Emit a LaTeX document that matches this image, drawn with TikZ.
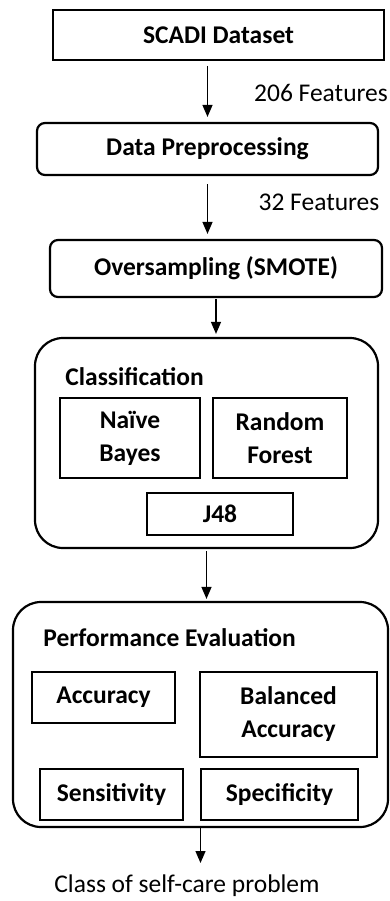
\documentclass[tikz,border=0pt]{standalone}
\usepackage{fontspec}
\setmainfont{Carlito}
\usetikzlibrary{arrows.meta}

\tikzset{
  stage/.style={draw, line width=1.1pt, rounded corners=4pt, font=\bfseries, inner sep=0pt},
  group/.style={draw, line width=1.1pt, rounded corners=14pt, inner sep=0pt},
  item/.style={draw, line width=1pt, font=\bfseries, align=center, inner sep=0pt},
  flow/.style={-{Triangle[length=6pt, width=5pt]}, line width=0.65pt},
}

\begin{document}
\begin{tikzpicture}[x=0.5pt, y=-0.5pt]
  \fontsize{12.75}{16.5}\selectfont
  \useasboundingbox (0,0) rectangle (390,901);

  % 1. 主流程方框
  \node[draw, line width=0.8pt, font=\bfseries, minimum width=165.5pt, minimum height=25pt] (dataset) at (218.5,35) {SCADI Dataset};
  \node[stage, minimum width=170.5pt, minimum height=26pt] (prep) at (207.5,149) {Data Preprocessing};
  \node[stage, minimum width=166pt, minimum height=28.5pt] (smote) at (216,268.5) {Oversampling (SMOTE)};

  % 2. 分类器组
  \node[group, minimum width=171.5pt, minimum height=105pt] (classif) at (206.5,443) {};
  \node[anchor=west, inner sep=0pt, font=\bfseries] (classtitle) at (65,377) {Classification};
  \node[item, minimum width=70pt, minimum height=40pt] (nb) at (130,438) {Naïve\\Bayes};
  \node[item, minimum width=67pt, minimum height=40pt] (rf) at (280,438) {Random\\Forest};
  \node[item, minimum width=73pt, minimum height=21pt] (j48) at (220,514) {J48};

  % 3. 评价指标组
  \node[group, minimum width=187.5pt, minimum height=112.5pt] (perf) at (200.5,714.5) {};
  \node[anchor=west, inner sep=0pt, font=\bfseries] (perftitle) at (43,638) {Performance Evaluation};
  \node[item, minimum width=71.5pt, minimum height=25.5pt] (acc) at (103.5,697.5) {Accuracy};
  \node[item, minimum width=88.5pt, minimum height=42.5pt] (bacc) at (288.5,714.5) {Balanced\\Accuracy};
  \node[item, minimum width=71.5pt, minimum height=25.5pt] (sens) at (111.5,794.5) {Sensitivity};
  \node[item, minimum width=78.5pt, minimum height=25.5pt] (spec) at (279.5,794.5) {Specificity};

  % 4. 输出与特征数标注
  \node[anchor=north, inner sep=0pt] (out) at (187,874) {Class of self-care problem};
  \node (f206) at (321,93) {206 Features};
  \node (f32) at (319,202) {32 Features};

  % 5. 箭头
  \draw[flow, shorten <=2.5pt, shorten >=2.5pt] (prep.north |- dataset.south) -- (prep.north);
  \draw[flow, shorten <=4pt, shorten >=2.5pt] (prep.south) -- (prep.south |- smote.north);
  \draw[flow, shorten <=0.5pt, shorten >=1.5pt] (smote.south) -- (smote.south |- classif.north);
  \draw[flow, shorten <=1pt, shorten >=1pt] (classif.south) -- (classif.south |- perf.north);
  \draw[flow, shorten >=5.5pt] (perf.south) -- (perf.south |- out.north);
\end{tikzpicture}
\end{document}
